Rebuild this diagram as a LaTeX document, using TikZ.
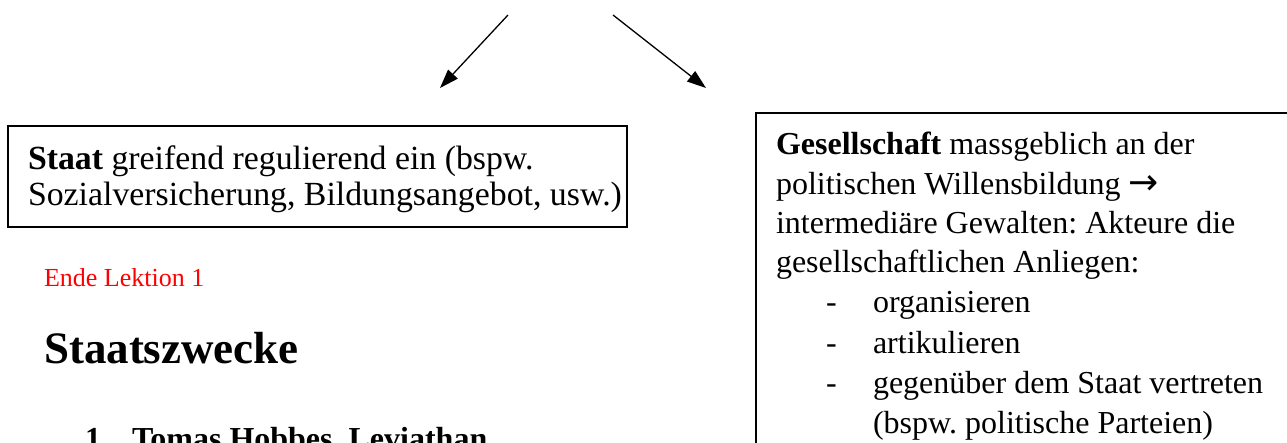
\documentclass[tikz,border=0pt]{standalone}
\usepackage{fontspec}
\setmainfont{Liberation Serif}
\newfontfamily\symfont{DejaVu Sans}
\usetikzlibrary{arrows.meta}
\tikzset{
  txt/.style={anchor=base west, inner sep=0pt, outer sep=0pt, text=black},
  boxtxt/.style={txt, font=\frenchspacing\fontsize{33.8}{36}\selectfont},
  gestxt/.style={txt, font=\frenchspacing\fontsize{32}{40}\selectfont},
  arr/.style={line width=1.3pt, -{Triangle[length=19pt,width=13pt]}},
  frame/.style={draw=black, inner sep=0pt, outer sep=0pt, anchor=north west}
}
\begin{document}
\begin{tikzpicture}[x=1pt,y=-1pt]
\useasboundingbox (0,0) rectangle (1287,443);
\clip (0,0) rectangle (1287,443);
% arrows
\coordinate (a1s) at (508,15);
\coordinate (a1e) at (440,88);
\coordinate (a2s) at (613,15);
\coordinate (a2e) at (706,88);
\draw[arr] (a1s) -- (a1e);
\draw[arr] (a2s) -- (a2e);
% left box
\node[frame, line width=2pt, minimum width=619pt, minimum height=101pt] (staatbox) at (8,126) {};
\node[boxtxt] (s1) at (28,170) {\textbf{Staat} greifend regulierend ein (bspw.};
\node[boxtxt] (s2) at (28,206) {Sozialversicherung, Bildungsangebot, usw.)};
% left column text
\node[txt, text=red, font=\fontsize{26}{30}\selectfont] (ende) at (44,287) {Ende Lektion 1};
\node[txt, font=\bfseries\fontsize{45}{50}\selectfont] (zwecke) at (44,363) {Staatszwecke};
\node[txt, font=\bfseries\fontsize{32}{38}\selectfont] (n1) at (85,449) {1.};
\node[txt, font=\bfseries\fontsize{32}{38}\selectfont] (hobbes) at (132,449) {Tomas Hobbes, Leviathan};
% right box
\node[frame, line width=1.3pt, minimum width=560pt, minimum height=360pt] (gesbox) at (756,113) {};
\node[gestxt] (g1) at (776,155) {\textbf{Gesellschaft} massgeblich an der};
\node[gestxt] (g2) at (776,195) {politischen Willensbildung {\symfont\fontsize{36}{40}\selectfont →}};
\node[gestxt] (g3) at (776,234) {intermediäre Gewalten: Akteure die};
\node[gestxt] (g4) at (776,273) {gesellschaftlichen Anliegen:};
\node[gestxt] (d1) at (826,313) {-};
\node[gestxt] (i1) at (873,313) {organisieren};
\node[gestxt] (d2) at (826,353) {-};
\node[gestxt] (i2) at (873,353) {artikulieren};
\node[gestxt] (d3) at (826,393) {-};
\node[gestxt] (i3) at (873,393) {gegenüber dem Staat vertreten};
\node[gestxt] (i4) at (873,433) {(bspw. politische Parteien)};
\end{tikzpicture}
\end{document}
